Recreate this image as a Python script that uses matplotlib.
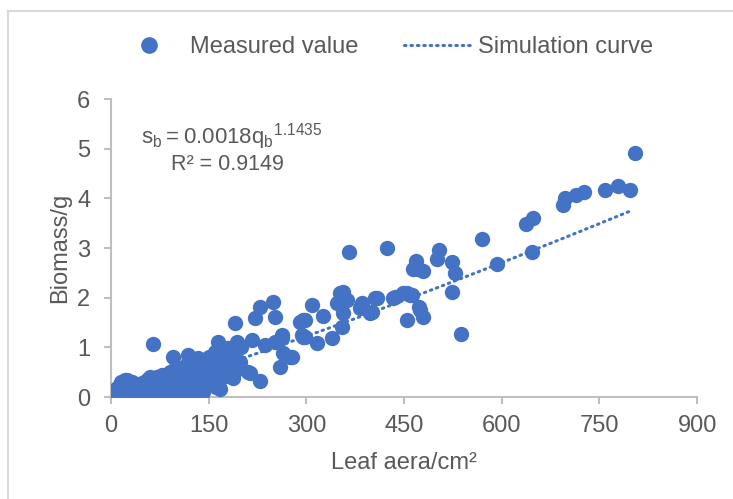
import matplotlib.pyplot as plt
import numpy as np
from matplotlib.lines import Line2D

plt.rcParams['font.family'] = ['Liberation Sans', 'DejaVu Sans']

# leaf area (cm2) and biomass (g)
leaf_area = [
    5, 7, 9, 10, 12, 14, 15, 18, 20, 22, 24, 25, 28, 30, 32, 35, 38, 40, 42, 45,
    48, 50, 52, 55, 58, 60, 62, 65, 67, 70, 72, 75, 78, 80, 82, 85, 88, 90, 92, 95,
    98, 100, 102, 105, 108, 110, 112, 115, 118, 120, 122, 125, 128, 130, 132, 135,
    138, 140, 142, 145, 148, 150, 152, 155, 158, 160, 162, 165, 168, 170, 172, 175,
    178, 180, 182, 185, 188, 192, 195, 198, 200,
    15, 35, 55, 75, 95, 115, 135, 20, 45, 70, 100, 130,
    65, 24, 14, 60, 95, 118, 134, 164, 167, 183, 188, 190, 193, 210, 213, 216,
    221, 229, 229, 236, 249, 252, 252, 260, 262, 262, 264, 275, 278, 290, 293,
    295, 295, 298, 298, 309, 316, 326, 339, 347, 352, 355, 356, 356, 362, 366,
    382, 385, 398, 401, 406, 408, 424, 433, 436, 449, 455, 455, 459, 462, 464,
    469, 472, 473, 475, 479, 479, 501, 504, 524, 524, 528, 538, 570, 593, 637,
    647, 648, 694, 697, 714, 727, 759, 779, 797, 805,
]
biomass = [
    0.02, 0.10, 0.00, 0.18, 0.05, 0.22, 0.30, 0.08, 0.12, 0.35, 0.02, 0.15, 0.25,
    0.05, 0.30, 0.10, 0.18, 0.02, 0.22, 0.12, 0.28, 0.05, 0.18, 0.35, 0.10, 0.22,
    0.02, 0.30, 0.15, 0.40, 0.08, 0.25, 0.45, 0.18, 0.05, 0.32, 0.20, 0.50, 0.10,
    0.35, 0.25, 0.60, 0.15, 0.40, 0.30, 0.05, 0.50, 0.22, 0.70, 0.35, 0.12, 0.55,
    0.45, 0.25, 0.65, 0.38, 0.75, 0.50, 0.10, 0.60, 0.42, 0.80, 0.30, 0.68, 0.52,
    0.90, 0.20, 0.72, 0.60, 0.95, 0.40, 0.82, 0.65, 0.98, 0.50, 0.75, 0.88, 0.55,
    0.98, 0.70, 1.00,
    0.00, 0.00, 0.00, 0.00, 0.02, 0.05, 0.08, 0.05, 0.05, 0.02, 0.02, 0.10,
    1.07, 0.34, 0.20, 0.40, 0.81, 0.85, 0.79, 1.11, 0.16, 0.61, 0.38, 1.49, 1.11,
    0.51, 0.48, 1.15, 1.60, 1.81, 0.32, 1.05, 1.92, 1.61, 1.11, 0.61, 1.19, 1.25,
    0.89, 0.81, 0.81, 1.52, 1.25, 1.56, 1.21, 1.56, 1.21, 1.86, 1.09, 1.64, 1.19,
    1.90, 2.10, 1.41, 1.70, 2.12, 1.96, 2.91, 1.80, 1.90, 1.70, 1.72, 2.00, 2.00,
    3.01, 2.00, 2.02, 2.10, 1.56, 2.10, 2.06, 2.06, 2.57, 2.73, 2.57, 1.82, 1.76,
    2.53, 1.62, 2.77, 2.95, 2.71, 2.12, 2.50, 1.27, 3.19, 2.67, 3.49, 2.91, 3.60,
    3.86, 4.00, 4.06, 4.12, 4.16, 4.24, 4.16, 4.91,
]

coef, power = 0.0018, 1.1435
fit_x = np.linspace(5, 800, 200)
fit_y = coef * fit_x ** power

blue = '#4472c4'
gray = '#595959'
axis_gray = '#bfbfbf'
dots = (0, (0.5, 1.6))

fig = plt.figure(figsize=(7.33, 4.99), dpi=100)
ax = fig.add_axes([0.1514, 0.2044, 0.7996, 0.5972])

ax.scatter(leaf_area, biomass, s=122, color=blue, linewidths=0, zorder=3)
ax.plot(fit_x, fit_y, color=blue, lw=2.2, linestyle=dots,
        dash_capstyle='round', zorder=2)

ax.set_xlim(0, 900)
ax.set_ylim(0, 6)
ax.set_xticks(np.arange(0, 901, 150))
ax.set_yticks(np.arange(0, 7, 1))
for s in ['top', 'right']:
    ax.spines[s].set_visible(False)
for s in ['left', 'bottom']:
    ax.spines[s].set_color(axis_gray)
    ax.spines[s].set_linewidth(1.5)
ax.tick_params(colors=axis_gray, labelcolor=gray, labelsize=17, length=5,
               width=1.5)
ax.tick_params(axis='y', pad=10)
ax.tick_params(axis='x', pad=8)

ax.set_xlabel('Leaf aera/cm²', color=gray, fontsize=17, labelpad=11)
ax.set_ylabel('Biomass/g', color=gray, fontsize=17, labelpad=4)

fig.text(141 / 733, 1 - 143 / 499, r'$\mathregular{s_b = 0.0018q_b{}^{1.1435}}$',
         color=gray, fontsize=16, ha='left', va='baseline')
fig.text(171 / 733, 1 - 170 / 499, 'R² = 0.9149',
         color=gray, fontsize=15.5, ha='left', va='baseline')

handles = [
    Line2D([], [], marker='o', color=blue, linestyle='none', markersize=11),
    Line2D([], [], color=blue, lw=2.2, linestyle=dots, dash_capstyle='round'),
]
leg = fig.legend(handles, ['Measured value', 'Simulation curve'],
                 loc='center', bbox_to_anchor=(0.5246, 1 - 47 / 499), ncol=2,
                 frameon=False, fontsize=17, handlelength=2.8,
                 columnspacing=1.9, handletextpad=0.35)
for t in leg.get_texts():
    t.set_color(gray)

# chart border (top and left only, as in the picture)
fig.add_artist(Line2D([8 / 733, 1], [1 - 11 / 499, 1 - 11 / 499],
                      color='#d9d9d9', lw=1.5, transform=fig.transFigure))
fig.add_artist(Line2D([8 / 733, 8 / 733], [0, 1 - 11 / 499],
                      color='#d9d9d9', lw=1.5, transform=fig.transFigure))

fig.savefig('out.png', dpi=100)
